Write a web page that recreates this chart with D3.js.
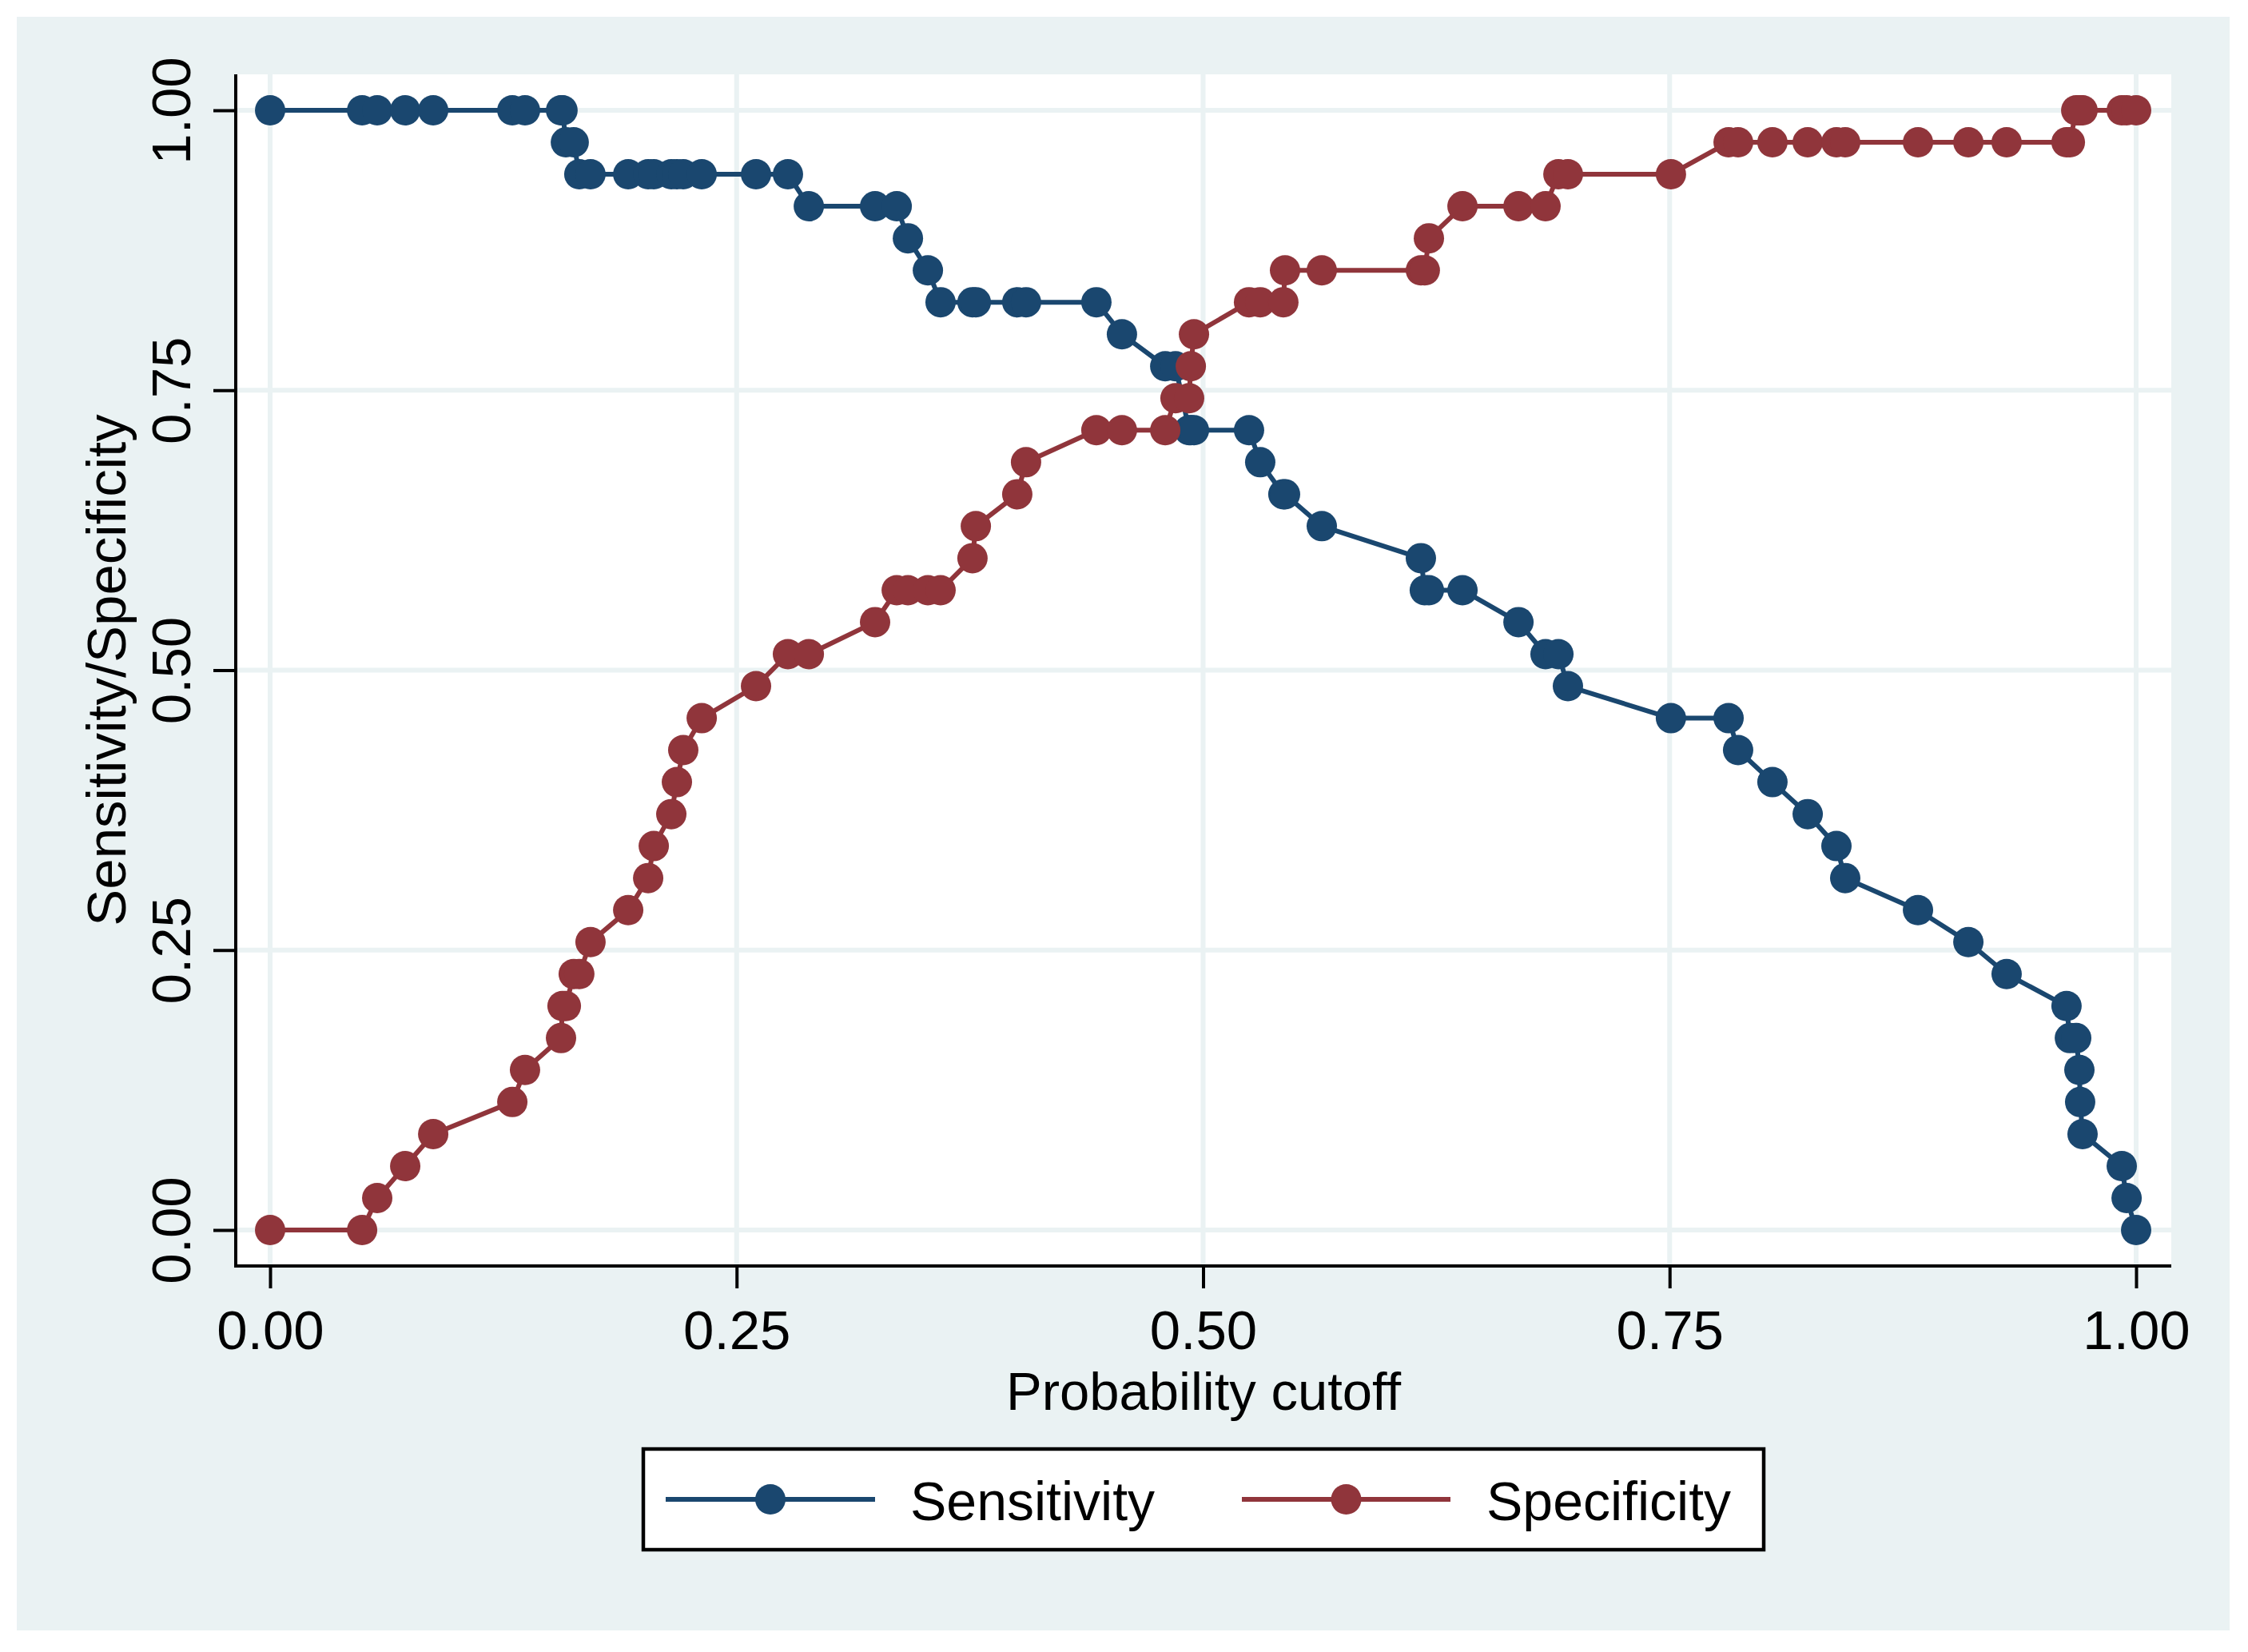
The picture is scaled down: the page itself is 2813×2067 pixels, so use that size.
<!DOCTYPE html>
<html>
<head>
<meta charset="utf-8">
<script src="https://cdn.jsdelivr.net/npm/d3@7"></script>
<style>
  html, body { margin: 0; padding: 0; background: #fff; }
  svg { display: block; font-family: "Liberation Sans", Arial, Helvetica, sans-serif; }
</style>
</head>
<body>
<div id="chart"></div>
<script>
// probability cutoffs (shared by both series)
const cutoffs = [0, 0.0493, 0.0574, 0.0724, 0.0874, 0.1298, 0.1366, 0.1559, 0.1567, 0.1585,
  0.1627, 0.1657, 0.1717, 0.1919, 0.2026, 0.2056, 0.2150, 0.2180, 0.2214, 0.2313,
  0.2604, 0.2775, 0.2887, 0.3242, 0.3358, 0.3418, 0.3525, 0.3593, 0.3764, 0.3782,
  0.4004, 0.4051, 0.4428, 0.4565, 0.4797, 0.4852, 0.4925, 0.4934, 0.4951, 0.5246,
  0.5306, 0.5430, 0.5439, 0.5636, 0.6167, 0.6188, 0.6210, 0.6390, 0.6690, 0.6835,
  0.6904, 0.6955, 0.7507, 0.7816, 0.7867, 0.8051, 0.8240, 0.8394, 0.8441, 0.8831,
  0.9101, 0.9306, 0.9627, 0.9645, 0.9679, 0.9696, 0.9700, 0.9713, 0.9923, 0.9949, 1];

const sensitivity = [1, 1, 1, 1, 1, 1, 1, 1, 1, 0.9714,
  0.9714, 0.9429, 0.9429, 0.9429, 0.9429, 0.9429, 0.9429, 0.9429, 0.9429, 0.9429,
  0.9429, 0.9429, 0.9143, 0.9143, 0.9143, 0.8857, 0.8571, 0.8286, 0.8286, 0.8286,
  0.8286, 0.8286, 0.8286, 0.8, 0.7714, 0.7714, 0.7143, 0.7143, 0.7143, 0.7143,
  0.6857, 0.6571, 0.6571, 0.6286, 0.6, 0.5714, 0.5714, 0.5714, 0.5429, 0.5143,
  0.5143, 0.4857, 0.4571, 0.4571, 0.4286, 0.4, 0.3714, 0.3429, 0.3143, 0.2857,
  0.2571, 0.2286, 0.2, 0.1714, 0.1714, 0.1429, 0.1143, 0.0857, 0.0571, 0.0286, 0];

const specificity = [0, 0, 0.0286, 0.0571, 0.0857, 0.1143, 0.1429, 0.1714, 0.2, 0.2,
  0.2286, 0.2286, 0.2571, 0.2857, 0.3143, 0.3429, 0.3714, 0.4, 0.4286, 0.4571,
  0.4857, 0.5143, 0.5143, 0.5429, 0.5714, 0.5714, 0.5714, 0.5714, 0.6, 0.6286,
  0.6571, 0.6857, 0.7143, 0.7143, 0.7143, 0.7429, 0.7429, 0.7714, 0.8, 0.8286,
  0.8286, 0.8286, 0.8571, 0.8571, 0.8571, 0.8571, 0.8857, 0.9143, 0.9143, 0.9143,
  0.9429, 0.9429, 0.9429, 0.9714, 0.9714, 0.9714, 0.9714, 0.9714, 0.9714, 0.9714,
  0.9714, 0.9714, 0.9714, 0.9714, 1, 1, 1, 1, 1, 1, 1];

const xTicks = [0, 0.25, 0.5, 0.75, 1];
const yTicks = [0, 0.25, 0.5, 0.75, 1];
const seriesNames = ['Sensitivity', 'Specificity'];
const seriesColors = ['#1a476f', '#90353b'];

const width = 2813, height = 2067;
const plot = {left: 295, top: 93, right: 2717, bottom: 1584};
const bgColor = '#eaf2f3';
const fontSize = 69;

const svg = d3.select('#chart').append('svg')
  .attr('width', width)
  .attr('height', height);

// graph region
svg.append('rect')
  .attr('x', 21).attr('y', 21)
  .attr('width', 2790 - 21).attr('height', 2040 - 21)
  .attr('fill', bgColor);

// plot region
svg.append('rect')
  .attr('x', plot.left).attr('y', plot.top)
  .attr('width', plot.right - plot.left).attr('height', plot.bottom - plot.top)
  .attr('fill', '#fff');

const x = d3.scaleLinear().domain([0, 1]).range([338, 2673]);
const y = d3.scaleLinear().domain([0, 1]).range([1539, 138]);

// grid
const grid = svg.append('g').attr('class', 'grid');
grid.selectAll('line.h').data(yTicks).enter().append('line')
  .attr('x1', plot.left).attr('x2', plot.right)
  .attr('y1', d => y(d)).attr('y2', d => y(d))
  .attr('stroke', bgColor).attr('stroke-width', 6);
grid.selectAll('line.v').data(xTicks).enter().append('line')
  .attr('y1', plot.top).attr('y2', plot.bottom)
  .attr('x1', d => x(d)).attr('x2', d => x(d))
  .attr('stroke', bgColor).attr('stroke-width', 6);

// axes
const gx = svg.append('g')
  .attr('transform', `translate(0,${plot.bottom})`)
  .call(d3.axisBottom(x).tickValues(xTicks).tickFormat(d3.format('.2f')).tickSize(28).tickSizeOuter(0));
gx.select('.domain').remove();
gx.selectAll('line').attr('stroke', '#000').attr('stroke-width', 4);
gx.selectAll('text')
  .attr('y', 104).attr('dy', 0)
  .attr('font-size', fontSize).attr('font-family', null).attr('fill', '#000');

const gy = svg.append('g')
  .attr('transform', `translate(${plot.left},0)`)
  .call(d3.axisLeft(y).tickValues(yTicks).tickFormat(d3.format('.2f')).tickSize(28).tickSizeOuter(0));
gy.select('.domain').remove();
gy.selectAll('line').attr('stroke', '#000').attr('stroke-width', 4);
gy.selectAll('text')
  .attr('transform', 'rotate(-90)')
  .attr('x', 0).attr('y', -57).attr('dy', 0)
  .attr('text-anchor', 'middle')
  .attr('font-size', fontSize).attr('font-family', null).attr('fill', '#000');

svg.append('line')
  .attr('x1', plot.left).attr('x2', plot.left)
  .attr('y1', plot.top).attr('y2', plot.bottom + 2)
  .attr('stroke', '#000').attr('stroke-width', 4);
svg.append('line')
  .attr('x1', plot.left - 2).attr('x2', plot.right)
  .attr('y1', plot.bottom).attr('y2', plot.bottom)
  .attr('stroke', '#000').attr('stroke-width', 4);

// axis titles
svg.append('text')
  .attr('x', 1506).attr('y', 1764)
  .attr('text-anchor', 'middle')
  .attr('font-size', 67)
  .text('Probability cutoff');

svg.append('text')
  .attr('transform', `translate(157,${(y(0) + y(1)) / 2}) rotate(-90)`)
  .attr('text-anchor', 'middle')
  .attr('font-size', 69)
  .text('Sensitivity/Specificity');

// series
const series = [sensitivity, specificity];
const line = d3.line()
  .x((d, i) => x(cutoffs[i]))
  .y(d => y(d));

series.forEach((vals, s) => {
  const g = svg.append('g').attr('class', 'series-' + s);
  g.append('path')
    .datum(vals)
    .attr('d', line)
    .attr('fill', 'none')
    .attr('stroke', seriesColors[s])
    .attr('stroke-width', 6)
    .attr('stroke-linejoin', 'round');
  g.selectAll('circle')
    .data(vals)
    .enter().append('circle')
    .attr('cx', (d, i) => x(cutoffs[i]))
    .attr('cy', d => y(d))
    .attr('r', 19)
    .attr('fill', seriesColors[s]);
});

// legend
const legend = svg.append('g').attr('class', 'legend');
legend.append('rect')
  .attr('x', 805).attr('y', 1813)
  .attr('width', 2207 - 805).attr('height', 1939 - 1813)
  .attr('fill', '#fff')
  .attr('stroke', '#000').attr('stroke-width', 4.5);

const legendItems = [
  {x1: 833, x2: 1095, tx: 1139},
  {x1: 1554, x2: 1815, tx: 1860}
];
legendItems.forEach((it, s) => {
  legend.append('line')
    .attr('x1', it.x1).attr('x2', it.x2)
    .attr('y1', 1876).attr('y2', 1876)
    .attr('stroke', seriesColors[s]).attr('stroke-width', 6);
  legend.append('circle')
    .attr('cx', (it.x1 + it.x2) / 2).attr('cy', 1876).attr('r', 19)
    .attr('fill', seriesColors[s]);
  legend.append('text')
    .attr('x', it.tx).attr('y', 1902)
    .attr('font-size', 68)
    .text(seriesNames[s]);
});
</script>
</body>
</html>
